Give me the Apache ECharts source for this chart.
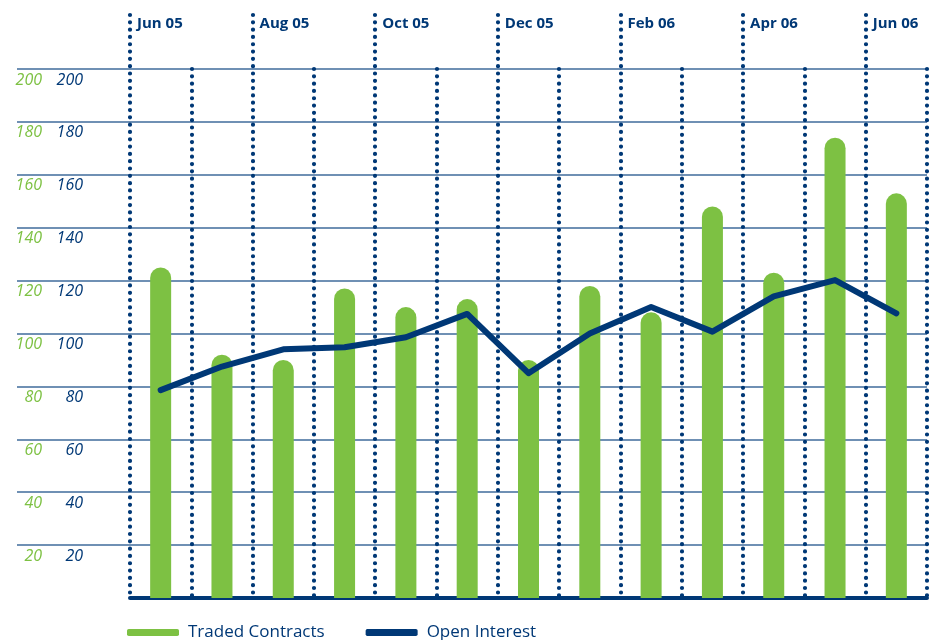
<!DOCTYPE html>
<html>
<head>
<meta charset="utf-8">
<script src="https://cdn.jsdelivr.net/npm/echarts@6/dist/echarts.min.js"></script>
<style>
	html, body { margin: 0; padding: 0; background: #fff; }
	#chart { width: 939px; height: 640px; }
</style>
</head>
<body>
<div id="chart"></div>
<script>
var months = ['Jun 05', 'Jul 05', 'Aug 05', 'Sep 05', 'Oct 05', 'Nov 05', 'Dec 05',
	'Jan 06', 'Feb 06', 'Mar 06', 'Apr 06', 'May 06', 'Jun 06'];
// top labels sit on the band edges, every other month
var topLabels = ['Jun 05', '', 'Aug 05', '', 'Oct 05', '', 'Dec 05', '',
	'Feb 06', '', 'Apr 06', '', 'Jun 06', ''];
var tradedContracts = [125, 92, 90, 117, 110, 113, 90, 118, 108, 148, 123, 174, 153];
var openInterest = [78.6, 87.5, 94, 94.8, 98.6, 107.4, 85, 100, 110, 100.7, 114, 120.2, 107.6];

var GREEN = '#7dc143';
var BLUE = '#003876';
var GRIDLINE = '#3f6b9b';
var FONT = '"Open Sans", "Noto Sans", sans-serif';

var chart = echarts.init(document.getElementById('chart'));

var dots = { color: BLUE, width: 4.2, type: [0.01, 7.3], cap: 'round' };

var option = {
	animation: false,
	backgroundColor: '#fff',
	grid: [
		{ left: 130, right: 12, top: 69, bottom: 42 },
		// wider grid only for the horizontal rules that run under the labels
		{ left: 17, right: 12, top: 69, bottom: 42 },
		// taller grid for the dotted lines of the labelled months
		{ left: 130, right: 12, top: 15, bottom: 42 }
	],
	legend: {
		left: 122,
		top: 619,
		itemWidth: 52,
		itemHeight: 7,
		itemGap: 41,
		icon: 'roundRect',
		textStyle: { color: BLUE, fontSize: 17, fontFamily: FONT, padding: [0, 0, 0, 4] },
		data: ['Traded Contracts', 'Open Interest']
	},
	xAxis: [
		{
			type: 'category',
			gridIndex: 0,
			data: months,
			boundaryGap: true,
			axisLine: { show: true, lineStyle: { color: BLUE, width: 4 } },
			axisTick: { show: false },
			axisLabel: { show: false },
			splitLine: { show: false }
		},
		{
			type: 'category',
			gridIndex: 0,
			position: 'top',
			data: topLabels,
			boundaryGap: false,
			axisLine: { show: false },
			axisTick: { show: false },
			axisLabel: {
				show: true,
				interval: 0,
				margin: 38,
				align: 'left',
				padding: [0, 0, 0, 7],
				color: BLUE,
				fontSize: 15,
				fontWeight: 'bold',
				fontFamily: FONT
			},
			splitLine: {
				show: true,
				interval: function (i) { return i % 2 === 1; },
				lineStyle: dots
			}
		},
		{
			type: 'value',
			gridIndex: 1,
			show: false
		},
		{
			type: 'category',
			gridIndex: 2,
			data: topLabels,
			boundaryGap: false,
			axisLine: { show: false },
			axisTick: { show: false },
			axisLabel: { show: false },
			splitLine: {
				show: true,
				interval: function (i) { return i % 2 === 0; },
				lineStyle: dots
			}
		}
	],
	yAxis: [
		{
			type: 'value',
			gridIndex: 0,
			min: 0, max: 200, interval: 20,
			axisLine: { show: false },
			axisTick: { show: false },
			splitLine: { show: false },
			axisLabel: {
				margin: 88,
				showMinLabel: false,
				verticalAlign: 'top',
				padding: [3, 0, 0, 0],
				color: GREEN,
				fontSize: 16,
				fontStyle: 'italic',
				fontFamily: FONT
			}
		},
		{
			type: 'value',
			gridIndex: 0,
			position: 'left',
			min: 0, max: 200, interval: 20,
			axisLine: { show: false },
			axisTick: { show: false },
			splitLine: { show: false },
			axisLabel: {
				margin: 47,
				showMinLabel: false,
				verticalAlign: 'top',
				padding: [3, 0, 0, 0],
				color: BLUE,
				fontSize: 16,
				fontStyle: 'italic',
				fontFamily: FONT
			}
		},
		{
			type: 'value',
			gridIndex: 1,
			min: 0, max: 200, interval: 20,
			axisLine: { show: false },
			axisTick: { show: false },
			axisLabel: { show: false },
			splitLine: {
				show: true,
				showMinLine: false,
				lineStyle: { color: GRIDLINE, width: 1.5 }
			}
		},
		{
			type: 'value',
			gridIndex: 2,
			show: false
		}
	],
	series: [
		{
			name: 'Traded Contracts',
			type: 'bar',
			xAxisIndex: 0,
			yAxisIndex: 0,
			data: tradedContracts,
			barWidth: 21,
			itemStyle: { color: GREEN, borderRadius: [10.5, 10.5, 0, 0] },
			z: 3
		},
		{
			name: 'Open Interest',
			type: 'line',
			xAxisIndex: 0,
			yAxisIndex: 1,
			data: openInterest,
			showSymbol: false,
			symbol: 'none',
			lineStyle: { color: BLUE, width: 6, cap: 'round', join: 'round' },
			itemStyle: { color: BLUE },
			z: 5
		}
	]
};

chart.setOption(option);
</script>
</body>
</html>
